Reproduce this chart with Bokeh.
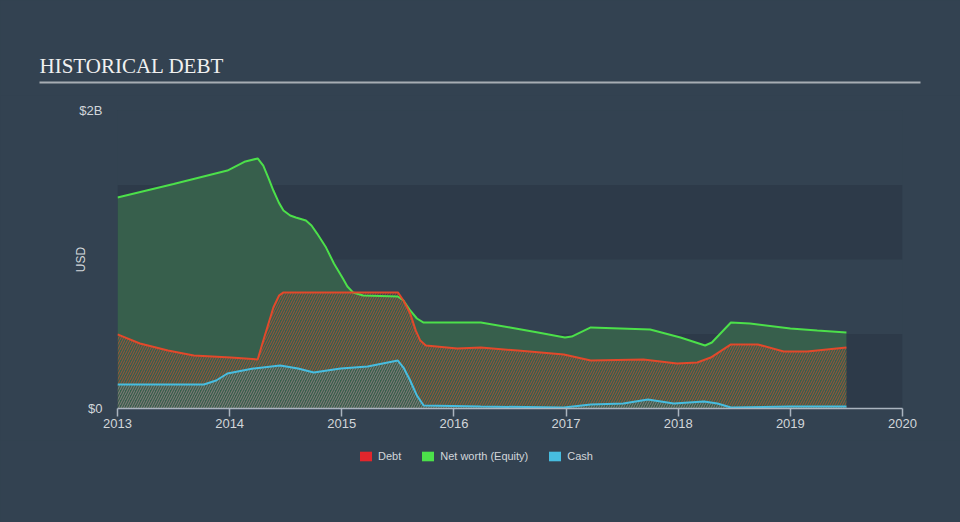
from bokeh.plotting import figure
from bokeh.layouts import column
from bokeh.models import Range1d, FixedTicker, BoxAnnotation, Legend, LegendItem
from bokeh.core.properties import value
from bokeh.embed import file_html
from bokeh.resources import INLINE

# ---------------- data (USD billions) ----------------
title_text = "HISTORICAL DEBT"
series_names = ["Debt", "Net worth (Equity)", "Cash"]
year_ticks = [2013, 2014, 2015, 2016, 2017, 2018, 2019, 2020]
year_labels = ["2013", "2014", "2015", "2016", "2017", "2018", "2019", "2020"]
y_ticks = [0, 2]
y_tick_labels = ["$0", "$2B"]

nw_years = [2013.00, 2013.50, 2013.98, 2014.14, 2014.25, 2014.30, 2014.35, 2014.39,
            2014.44, 2014.48, 2014.54, 2014.59, 2014.68, 2014.73, 2014.78, 2014.86,
            2014.93, 2015.01, 2015.05, 2015.10, 2015.19, 2015.50, 2015.55, 2015.61,
            2015.67, 2015.73, 2016.24, 2016.50, 2016.75, 2016.99, 2017.05, 2017.22,
            2017.75, 2018.02, 2018.24, 2018.30, 2018.47, 2018.64, 2019.00, 2019.24,
            2019.50]
nw_values = [1.416, 1.507, 1.597, 1.658, 1.678, 1.630, 1.540, 1.463,
             1.380, 1.329, 1.295, 1.282, 1.262, 1.228, 1.174, 1.080,
             0.973, 0.872, 0.819, 0.779, 0.758, 0.752, 0.725, 0.658,
             0.604, 0.577, 0.577, 0.544, 0.510, 0.477, 0.483, 0.544,
             0.530, 0.477, 0.423, 0.443, 0.577, 0.570, 0.537, 0.523,
             0.510]

debt_years = [2013.00, 2013.20, 2013.45, 2013.68, 2014.01, 2014.25, 2014.30, 2014.39,
              2014.44, 2014.48, 2015.50, 2015.55, 2015.61, 2015.66, 2015.70, 2015.75,
              2016.03, 2016.24, 2016.57, 2016.98, 2017.22, 2017.69, 2017.99, 2018.17,
              2018.29, 2018.47, 2018.71, 2018.94, 2019.15, 2019.50]
debt_values = [0.497, 0.436, 0.389, 0.356, 0.342, 0.329, 0.456, 0.678,
               0.758, 0.779, 0.779, 0.725, 0.638, 0.523, 0.456, 0.423,
               0.403, 0.409, 0.389, 0.362, 0.322, 0.329, 0.302, 0.309,
               0.342, 0.430, 0.430, 0.383, 0.383, 0.409]

cash_years = [2013.00, 2013.77, 2013.88, 2013.98, 2014.21, 2014.45, 2014.61, 2014.75,
              2014.99, 2015.23, 2015.50, 2015.55, 2015.61, 2015.67, 2015.73, 2016.24,
              2016.98, 2017.22, 2017.51, 2017.73, 2017.96, 2018.23, 2018.35, 2018.47,
              2019.00, 2019.50]
cash_values = [0.161, 0.161, 0.188, 0.235, 0.268, 0.289, 0.268, 0.242,
               0.268, 0.282, 0.322, 0.275, 0.188, 0.087, 0.020, 0.013,
               0.007, 0.027, 0.034, 0.060, 0.034, 0.047, 0.034, 0.007,
               0.013, 0.013]

# ---------------- styles ----------------
BG = "#334251"
BAND = "#2d3a49"
TXT = "#d2d6da"
RED = "#e3262c"
RED_LINE = "#e2492b"
GREEN = "#4ce04a"
GREEN_FILL = "#375f4c"
BLUE = "#47bde0"
SANS = "Liberation Sans"
BG_STYLE = {"background-color": BG}

# ---------------- header ----------------
header = figure(width=960, height=95, x_range=Range1d(0, 960), y_range=Range1d(95, 0),
                output_backend="svg", toolbar_location=None,
                x_axis_location=None, y_axis_location=None,
                min_border=0, outline_line_color=None,
                background_fill_color=BG, border_fill_color=BG)
header.frame_align = False
header.styles = BG_STYLE
header.grid.visible = False
header.text(x=[39], y=[65], text=[title_text], text_font=value("Liberation Serif"),
            text_font_size="21px", text_color="#f0f0f0", text_baseline="alphabetic")
header.line(x=[39, 920], y=[82, 82], line_color="#a7adb4", line_width=2)

# ---------------- main plot ----------------
p = figure(width=960, height=345, x_range=Range1d(2013, 2020), y_range=Range1d(0, 2),
           output_backend="svg", toolbar_location=None,
           min_border_left=117, min_border_right=58, min_border_top=15, min_border_bottom=32,
           outline_line_color=None, background_fill_color=BG, border_fill_color=BG)
p.frame_align = False
p.styles = BG_STYLE
p.grid.visible = False

for lo, hi in [(0, 0.5), (1.0, 1.5)]:
    p.add_layout(BoxAnnotation(left=2013, right=2020, bottom=lo, top=hi,
                               fill_color=BAND, fill_alpha=1.0, line_color=None,
                               level="underlay"))

p.varea(x=nw_years, y1=[0] * len(nw_years), y2=nw_values, fill_color=GREEN_FILL, fill_alpha=1.0)
p.varea(x=debt_years, y1=[0] * len(debt_years), y2=debt_values, fill_alpha=0,
        hatch_pattern="/", hatch_color=RED_LINE, hatch_alpha=0.6, hatch_scale=5, hatch_weight=1)
p.varea(x=cash_years, y1=[0] * len(cash_years), y2=cash_values, fill_alpha=0,
        hatch_pattern="/", hatch_color=BLUE, hatch_alpha=0.42, hatch_scale=5, hatch_weight=1)

p.line(nw_years, nw_values, line_color=GREEN, line_width=2)
p.line(debt_years, debt_values, line_color=RED_LINE, line_width=2)
p.line(cash_years, cash_values, line_color=BLUE, line_width=2)

# x axis
xa = p.xaxis[0]
xa.ticker = FixedTicker(ticks=year_ticks)
xa.major_label_overrides = {t: l for t, l in zip(year_ticks, year_labels)}
xa.axis_line_color = "#aab4bf"
xa.axis_line_width = 1.5
xa.major_tick_line_color = "#aab4bf"
xa.major_tick_line_width = 1.5
xa.major_tick_out = 8
xa.major_tick_in = 0
xa.minor_tick_line_color = None
xa.major_label_standoff = 2
xa.major_label_text_font = SANS
xa.major_label_text_font_size = "13px"
xa.major_label_text_color = TXT

# y axis
ya = p.yaxis[0]
ya.ticker = FixedTicker(ticks=y_ticks)
ya.major_label_overrides = {t: l for t, l in zip(y_ticks, y_tick_labels)}
ya.axis_line_color = None
ya.major_tick_line_color = None
ya.minor_tick_line_color = None
ya.major_tick_out = 0
ya.major_tick_in = 0
ya.major_label_standoff = 15
ya.major_label_text_font = SANS
ya.major_label_text_font_size = "13px"
ya.major_label_text_color = TXT
ya.axis_label = "USD"
ya.axis_label_text_font = SANS
ya.axis_label_text_font_size = "12px"
ya.axis_label_text_font_style = "normal"
ya.axis_label_text_color = TXT
ya.axis_label_standoff = -12

# ---------------- footer with legend ----------------
footer = figure(width=960, height=82, x_range=Range1d(0, 960), y_range=Range1d(0, 82),
                output_backend="svg", toolbar_location=None,
                x_axis_location=None, y_axis_location=None,
                min_border=0, outline_line_color=None,
                background_fill_color=BG, border_fill_color=BG)
footer.frame_align = False
footer.styles = BG_STYLE
footer.grid.visible = False
items = []
for name, col in zip(series_names, [RED, GREEN, BLUE]):
    r = footer.rect(x=[0], y=[0], width=0, height=0, fill_color=col, line_color=None)
    items.append(LegendItem(label=name, renderers=[r]))
legend = Legend(items=items, orientation="horizontal", location=(358, 60),
                glyph_width=15, glyph_height=12, label_height=12, label_standoff=5,
                spacing=19, padding=0, margin=0, border_line_color=None,
                background_fill_alpha=0, label_text_font=SANS,
                label_text_font_size="11px", label_text_color=TXT)
footer.add_layout(legend)

layout = column(header, p, footer, spacing=0)
layout.styles = BG_STYLE
open("out.html", "w").write(file_html(layout, INLINE))
